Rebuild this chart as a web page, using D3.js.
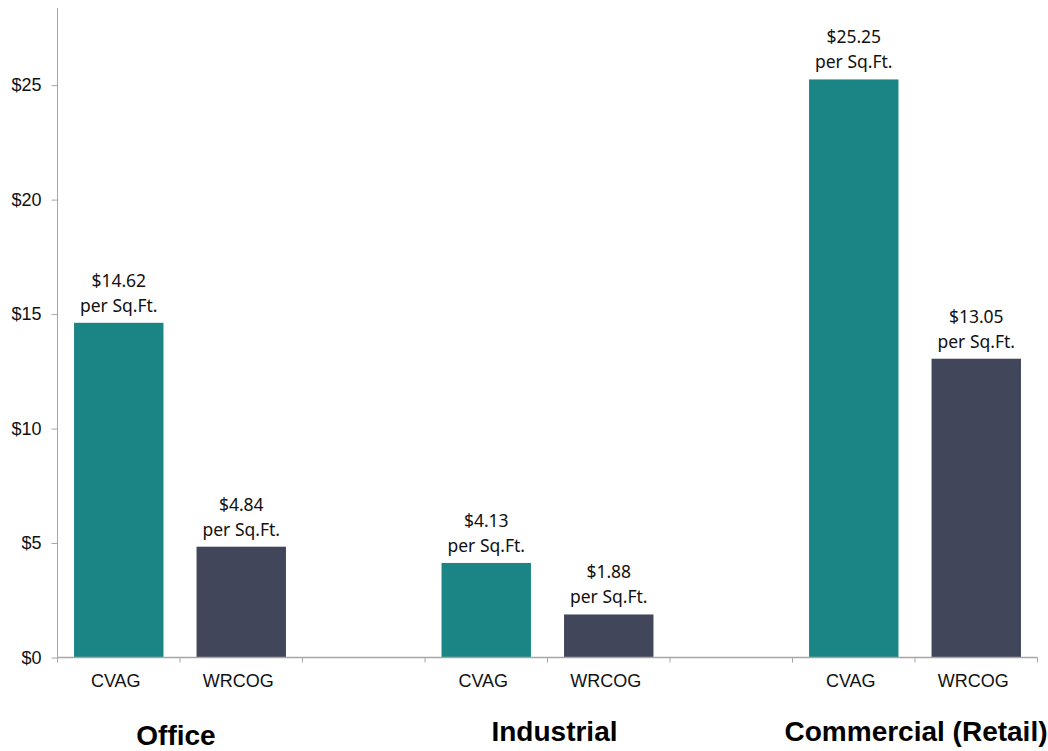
<!DOCTYPE html>
<html>
<head>
<meta charset="utf-8">
<script src="https://cdn.jsdelivr.net/npm/d3@7"></script>
<style>
  body { margin: 0; background: #fff; }
  svg { display: block; }
</style>
</head>
<body>
<script>
var width = 1048;
var height = 751;

// data
var groups = ["Office", "Industrial", "Commercial (Retail)"];
var agencies = ["CVAG", "WRCOG"];
var cvagValues = [14.62, 4.13, 25.25];
var wrcogValues = [4.84, 1.88, 13.05];
var yTicks = [0, 5, 10, 15, 20, 25];

var colors = {CVAG: "#1b8585", WRCOG: "#41465a"};

// 8 slots on the axis: CVAG, WRCOG, gap, CVAG, WRCOG, gap, CVAG, WRCOG
var slots = [];
groups.forEach(function(g, i) {
  agencies.forEach(function(a) { slots.push(g + "|" + a); });
  if (i < groups.length - 1) slots.push("gap" + i);
});

var bars = [];
groups.forEach(function(g, i) {
  bars.push({group: g, agency: "CVAG", value: cvagValues[i]});
  bars.push({group: g, agency: "WRCOG", value: wrcogValues[i]});
});

var svg = d3.select("body").append("svg")
  .attr("width", width)
  .attr("height", height);

var x = d3.scaleBand()
  .domain(slots)
  .range([57.5, 1037.5])
  .paddingInner(0.27)
  .paddingOuter(0.135);

var y = d3.scaleLinear()
  .domain([0, 28.37])
  .range([657.5, 8]);

var axisColor = "#a6a6a6";

// bars
svg.selectAll("rect.bar")
  .data(bars)
  .enter()
  .append("rect")
    .attr("class", "bar")
    .attr("x", function(d) { return x(d.group + "|" + d.agency); })
    .attr("y", function(d) { return y(d.value); })
    .attr("width", x.bandwidth())
    .attr("height", function(d) { return y(0) - y(d.value); })
    .attr("fill", function(d) { return colors[d.agency]; });

// value labels
var labels = svg.selectAll("text.val")
  .data(bars)
  .enter()
  .append("text")
    .attr("class", "val")
    .attr("text-anchor", "middle")
    .attr("font-family", "'Noto Sans', sans-serif")
    .attr("font-size", "17.5px")
    .attr("fill", "#111");
labels.append("tspan")
  .attr("x", function(d) { return x(d.group + "|" + d.agency) + x.bandwidth() / 2; })
  .attr("y", function(d) { return y(d.value) - 36; })
  .text(function(d) { return "$" + d.value.toFixed(2); });
labels.append("tspan")
  .attr("x", function(d) { return x(d.group + "|" + d.agency) + x.bandwidth() / 2; })
  .attr("y", function(d) { return y(d.value) - 11; })
  .text("per Sq.Ft.");

// y axis
var yAxis = svg.append("g")
  .attr("transform", "translate(57.5,0)")
  .call(d3.axisLeft(y).tickValues(yTicks).tickSize(6).tickPadding(10)
    .tickFormat(function(d) { return "$" + d; }));
yAxis.select(".domain").attr("stroke", axisColor).attr("d", "M0," + y(0) + "V" + y.range()[1]);
yAxis.selectAll(".tick line").attr("stroke", axisColor);
yAxis.selectAll(".tick text")
  .attr("font-family", "'Liberation Sans', Arial, sans-serif")
  .attr("font-size", "18px")
  .attr("fill", "#111");

// x axis line with boundary ticks
var xAxisG = svg.append("g");
xAxisG.append("line")
  .attr("x1", 57.5).attr("x2", 1037.5)
  .attr("y1", y(0)).attr("y2", y(0))
  .attr("stroke", axisColor).attr("stroke-width", 1.5);
var step = x.step();
var bounds = d3.range(slots.length + 1).map(function(i) { return 57.5 + i * step; });
xAxisG.selectAll("line.xt")
  .data(bounds)
  .enter()
  .append("line")
    .attr("class", "xt")
    .attr("x1", function(d) { return d; }).attr("x2", function(d) { return d; })
    .attr("y1", y(0)).attr("y2", y(0) + 5)
    .attr("stroke", axisColor);

// agency labels
svg.selectAll("text.agency")
  .data(bars)
  .enter()
  .append("text")
    .attr("class", "agency")
    .attr("x", function(d) { return x(d.group + "|" + d.agency) + x.bandwidth() / 2 - 3; })
    .attr("y", 687)
    .attr("text-anchor", "middle")
    .attr("font-family", "'Liberation Sans', Arial, sans-serif")
    .attr("font-size", "18px")
    .attr("fill", "#111")
    .text(function(d) { return d.agency; });

// group labels
var groupOffsets = [{dx: -4, y: 745}, {dx: 7, y: 741}, {dx: 1, y: 741}];
svg.selectAll("text.group")
  .data(groups)
  .enter()
  .append("text")
    .attr("class", "group")
    .attr("x", function(d, i) { return x(d + "|WRCOG") - (step - x.bandwidth()) / 2 + groupOffsets[i].dx; })
    .attr("y", function(d, i) { return groupOffsets[i].y; })
    .attr("text-anchor", "middle")
    .attr("font-family", "'Liberation Sans', Arial, sans-serif")
    .attr("font-weight", "bold")
    .attr("font-size", "28px")
    .attr("fill", "#000")
    .text(function(d) { return d; });
</script>
</body>
</html>
